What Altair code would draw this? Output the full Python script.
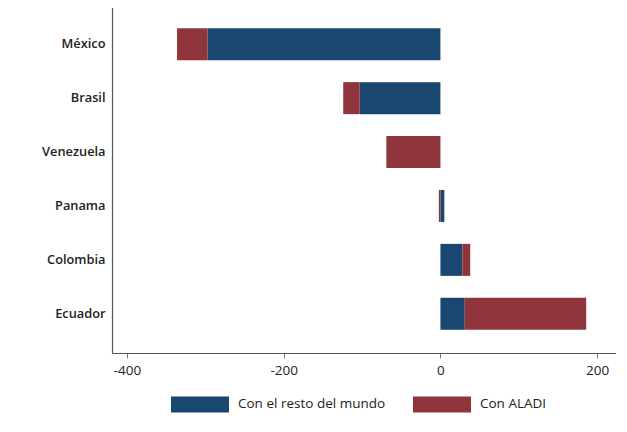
import altair as alt
import pandas as pd

countries = ["México", "Brasil", "Venezuela", "Panama", "Colombia", "Ecuador"]
resto_mundo = [-297, -103, 0, 5, 28, 31]
aladi = [-39, -21, -69, -2, 10, 155]
series = ["Con el resto del mundo", "Con ALADI"]
colors = ["#1a476f", "#90353b"]
x_ticks = [-400, -200, 0, 200]

rows = []
for c, r, a in zip(countries, resto_mundo, aladi):
    rows.append({"pais": c, "serie": series[0], "valor": r, "ord": 0})
    rows.append({"pais": c, "serie": series[1], "valor": a, "ord": 1})
df = pd.DataFrame(rows)

font = "Open Sans"
sym = "M-1,-0.276H1V0.276H-1Z"

chart = alt.Chart(df).mark_bar().encode(
    y=alt.Y("pais:N", sort=countries, title=None,
            scale=alt.Scale(paddingInner=0.406, paddingOuter=0.431),
            axis=alt.Axis(ticks=False, labelFont=font, labelFontSize=12.8,
                          labelFontWeight=600, labelColor="#222222",
                          labelPadding=7, domainColor="#555555", domainWidth=1.2,
                          grid=False)),
    x=alt.X("valor:Q", stack="zero", title=None,
            scale=alt.Scale(domain=[-419, 224], nice=False, zero=False),
            axis=alt.Axis(values=x_ticks, labelExpr="'' + datum.value",
                          labelFont=font, labelFontSize=13.5,
                          labelColor="#222222", tickColor="#777777", tickSize=5,
                          labelPadding=5, domainColor="#555555", domainWidth=1.2,
                          grid=False)),
    color=alt.Color("serie:N", scale=alt.Scale(domain=series, range=colors),
                    legend=alt.Legend(title=None, orient="none", direction="horizontal",
                                      legendX=59, legendY=370, symbolType=sym,
                                      symbolSize=3364, symbolStrokeWidth=0,
                                      labelFont=font, labelFontSize=13.5,
                                      labelColor="#222222", labelOffset=9,
                                      columnPadding=27, padding=0)),
    order=alt.Order("ord:Q"),
).properties(
    width=504, height=348,
    autosize=alt.AutoSizeParams(type="none"),
    padding={"left": 104, "top": -3, "right": 0, "bottom": 70},
).configure_view(stroke=None).configure(background="white")

chart.save("out.html", embed_options={"renderer": "svg", "actions": False})
